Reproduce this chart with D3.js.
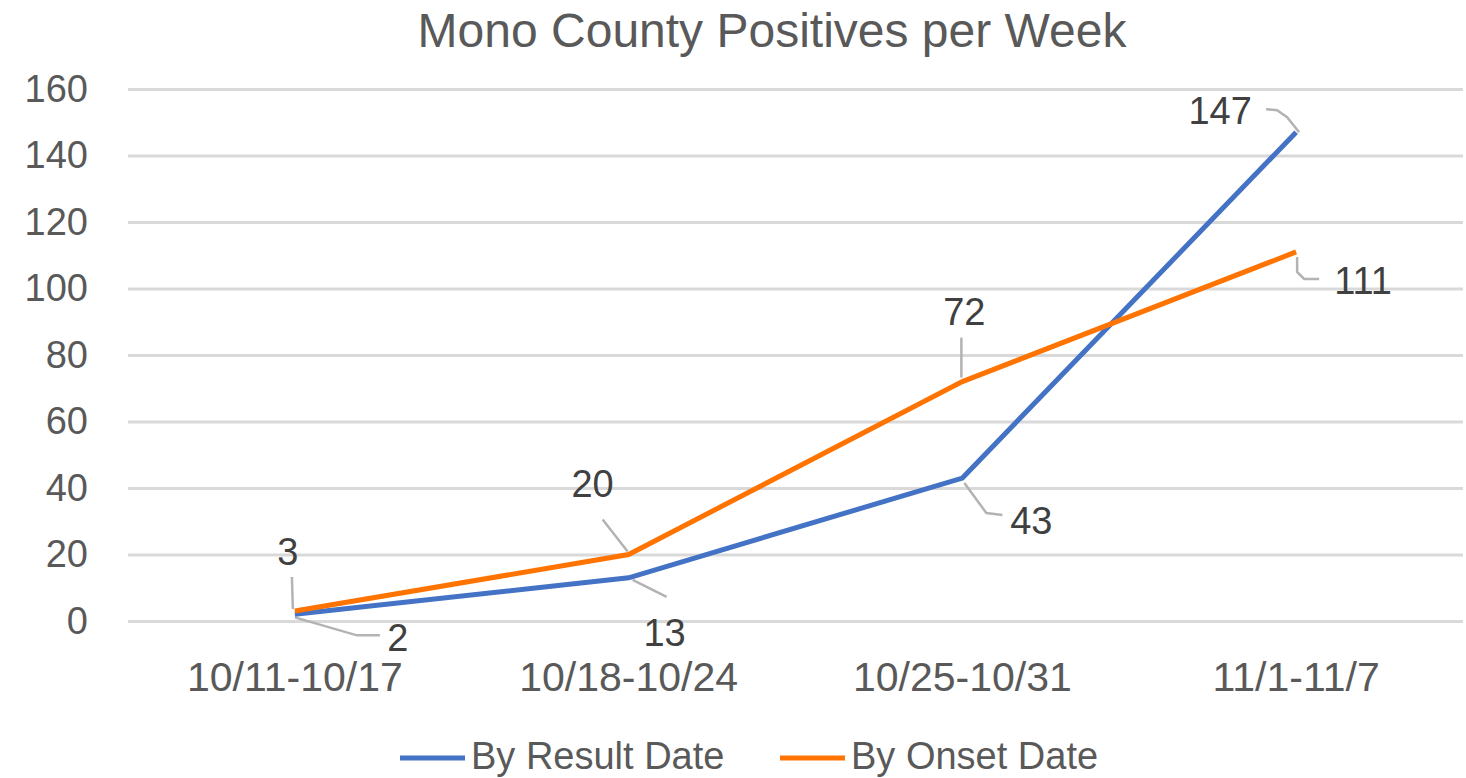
<!DOCTYPE html>
<html>
<head>
<meta charset="utf-8">
<script src="https://cdn.jsdelivr.net/npm/d3@7"></script>
<style>
  body { margin: 0; background: #fff; }
  svg { display: block; font-family: "Liberation Sans", Arial, sans-serif; }
</style>
</head>
<body>
<div class="chart"></div>
<script>
// data
const weeks = ["10/11-10/17", "10/18-10/24", "10/25-10/31", "11/1-11/7"];
const byResult = [2, 13, 43, 147];
const byOnset = [3, 20, 72, 111];
const yTicks = [0, 20, 40, 60, 80, 100, 120, 140, 160];
const seriesNames = ["By Result Date", "By Onset Date"];

// label placement (offsets from the point) and leader lines
const resultLabelPos = [[103, 23], [36, 55], [69, 43], [-76, -22]];
const onsetLabelPos = [[-7, -59], [-36, -71], [2, -70], [67, 29]];
const resultLeaders = [
  [[0, 3], [62, 21], [85, 21]],
  [[4, 2], [38, 19]],
  [[2, 5], [24, 35], [40, 37]],
  [[3, 0], [-9, -15], [-19, -22], [-30, -23]]
];
const onsetLeaders = [
  [[-3, -34], [-2, -2]],
  [[-26, -35], [-1, -3]],
  [[-1, -44], [-1, -4]],
  [[1, 5], [1, 20], [8, 27], [23, 27]]
];

const w = 1466;
const h = 778;
const plotLeft = 128, plotRight = 1463, plotTop = 89, plotBottom = 621;
const blue = "#4472C4";
const orange = "#FF7300";

const svg = d3.select(".chart").append("svg").attr("width", w).attr("height", h);

const x = d3.scaleBand().domain(weeks).range([plotLeft, plotRight]);
const y = d3.scaleLinear().domain([0, 160]).range([plotBottom, plotTop]);

// title
svg.append("text")
  .attr("x", 772).attr("y", 47)
  .attr("text-anchor", "middle")
  .style("font-size", "48px")
  .style("fill", "#595959")
  .text("Mono County Positives per Week");

// y axis + gridlines
const yAxis = d3.axisLeft(y).tickValues(yTicks).tickSize(-(plotRight - plotLeft)).tickPadding(40);
const gy = svg.append("g").attr("transform", "translate(" + plotLeft + ",0)").call(yAxis);
gy.select(".domain").remove();
gy.selectAll(".tick line").attr("stroke", "#d9d9d9").attr("stroke-width", 3);
gy.selectAll(".tick text")
  .style("font-size", "38px")
  .style("fill", "#595959")
  .attr("font-family", null);

// x axis labels
const xAxis = d3.axisBottom(x).tickSize(0).tickPadding(40);
const gx = svg.append("g").attr("transform", "translate(0," + plotBottom + ")").call(xAxis);
gx.select(".domain").remove();
gx.selectAll(".tick text")
  .style("font-size", "41px")
  .style("fill", "#595959")
  .attr("font-family", null)
  .attr("dy", "0.35em")
  .attr("y", 56);

const cx = (d, i) => x(weeks[i]) + x.bandwidth() / 2;

const line = d3.line().x((d, i) => cx(d, i)).y(d => y(d));

// leader lines
function leaders(values, paths) {
  values.forEach((v, i) => {
    const px = cx(v, i), py = y(v);
    svg.append("path")
      .attr("d", d3.line()(paths[i].map(p => [px + p[0], py + p[1]])))
      .attr("fill", "none")
      .attr("stroke", "#b3b3b3")
      .attr("stroke-width", 2.5);
  });
}
leaders(byResult, resultLeaders);
leaders(byOnset, onsetLeaders);

svg.append("path").datum(byResult)
  .attr("d", line).attr("fill", "none")
  .attr("stroke", blue).attr("stroke-width", 5);
svg.append("path").datum(byOnset)
  .attr("d", line).attr("fill", "none")
  .attr("stroke", orange).attr("stroke-width", 5);

// data labels
function labels(values, pos) {
  svg.append("g").selectAll("text").data(values).enter().append("text")
    .attr("x", (d, i) => cx(d, i) + pos[i][0])
    .attr("y", (d, i) => y(d) + pos[i][1])
    .attr("dy", "0.35em")
    .attr("text-anchor", "middle")
    .style("font-size", "38px")
    .style("fill", "#404040")
    .text(d => d);
}
labels(byResult, resultLabelPos);
labels(byOnset, onsetLabelPos);

// legend
const legend = svg.append("g").attr("id", "legend");
const legendX = [400, 780];
const legendY = 756;
[blue, orange].forEach((c, i) => {
  legend.append("line")
    .attr("x1", legendX[i]).attr("x2", legendX[i] + 65)
    .attr("y1", legendY + 2).attr("y2", legendY + 2)
    .attr("stroke", c).attr("stroke-width", 5);
  legend.append("text")
    .attr("x", legendX[i] + 71).attr("y", legendY)
    .attr("dy", "0.35em")
    .style("font-size", "38px")
    .style("fill", "#595959")
    .text(seriesNames[i]);
});
</script>
</body>
</html>
